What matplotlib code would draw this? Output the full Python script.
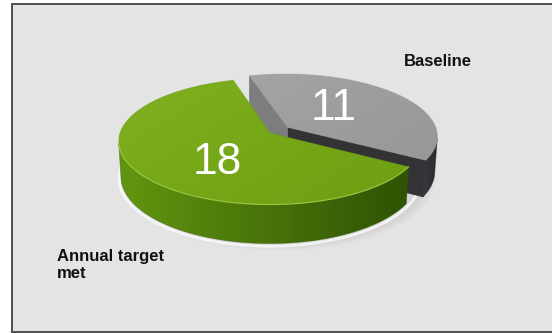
import numpy as np
import matplotlib
matplotlib.use('Agg')
import matplotlib.pyplot as plt
from matplotlib.patches import Polygon, Rectangle
from matplotlib.colors import LinearSegmentedColormap

# slices, laid out counter-clockwise from START
labels = ['Annual target\nmet', 'Baseline']
values = [18, 11]
explode = [0.0, 0.15]

# (angle in degrees, fraction of radius) for the value printed on each slice
value_pos = [(234, 0.56), (45, 0.47)]

START = 106.0          # degrees, where the first slice begins
ELEV = np.radians(24.4)
DIST = 6.8             # camera distance, in pie radii
THICK = 0.26           # disc thickness, in pie radii
SCALE = 150.0          # pixels per pie radius
CX, CY = 270.0, 133.0  # pixel position of the pie centre

styles = [
    dict(top=('#7eb01e', '#6e9e12'), top_dir=35,
         side=('#62960f', '#2f5204'), side_dir=0,
         cut='#4a7a0a', rim='#a6d24a'),
    dict(top=('#a4a4a4', '#979797'), top_dir=35,
         side=('#3a3a3e', '#2a2a2e'), side_dir=0,
         cut_start='#333336', cut_end='#7d7d7d', rim=None),
]

fig = plt.figure(figsize=(5.52, 3.33), dpi=100, facecolor='white')
ax = fig.add_axes([0, 0, 1, 1])


def project(x, y, z):
    c, s = np.cos(ELEV), np.sin(ELEV)
    depth = DIST + y * c - z * s
    sx = x * DIST / depth
    sy = (y * s + z * c) * DIST / depth
    return np.column_stack([CX + SCALE * sx, CY - SCALE * sy])


def shade(xy, c0, c1, angle_deg, zorder):
    poly = Polygon(xy, closed=True, facecolor='none', edgecolor='none')
    ax.add_patch(poly)
    x0, y0 = xy.min(0)
    x1, y1 = xy.max(0)
    gx, gy = np.meshgrid(np.linspace(0, 1, 96), np.linspace(0, 1, 96))
    a = np.radians(angle_deg)
    g = gx * np.cos(a) + gy * np.sin(a)
    g = (g - g.min()) / (g.max() - g.min())
    cmap = LinearSegmentedColormap.from_list('grad', [c0, c1])
    im = ax.imshow(g, cmap=cmap, extent=(x0, x1, y1, y0), origin='upper',
                   interpolation='bilinear', aspect='auto', zorder=zorder)
    im.set_clip_path(poly)
    # soft outline so the clipped edge is not jagged
    ax.add_patch(Polygon(xy, closed=True, facecolor='none',
                         edgecolor=c1, lw=0.5, alpha=0.5, zorder=zorder + 0.01))


def facing(n, p):
    cam = np.array([0.0, -DIST * np.cos(ELEV), DIST * np.sin(ELEV)])
    return np.dot(n, cam - p) > 0


# background panel
ax.add_patch(Rectangle((12, 4), 560, 327.5, facecolor='#e4e4e4',
                       edgecolor='#4d4d4d', lw=1.4, zorder=0))

# soft shadow under the disc
t_all = np.radians(np.linspace(0, 360, 300))
for k, a in zip([1.06, 1.04, 1.02], [0.05, 0.07, 0.09]):
    sh = project(0.05 + k * np.cos(t_all), -0.02 + k * np.sin(t_all),
                 np.full_like(t_all, -THICK))
    ax.add_patch(Polygon(sh, closed=True, facecolor='#9a9a9a', edgecolor='none',
                         alpha=a, zorder=1))
glow = project(1.01 * np.cos(t_all), 1.01 * np.sin(t_all) - 0.02,
               np.full_like(t_all, -THICK))
ax.add_patch(Polygon(glow, closed=True, facecolor='none', edgecolor='white',
                     lw=2.0, alpha=0.7, zorder=1.1))

total = float(sum(values))
spans = [v / total * 360.0 for v in values]
bounds = START + np.concatenate([[0], np.cumsum(spans)])

wedges = []
for i in range(len(values)):
    a0, a1 = bounds[i], bounds[i + 1]
    mid = np.radians((a0 + a1) / 2)
    off = explode[i] * np.array([np.cos(mid), np.sin(mid)])
    wedges.append((i, a0, a1, off))

# far slices first
wedges.sort(key=lambda w: -(w[3][1] + 0.5 * np.sin(np.radians((w[1] + w[2]) / 2))))

for order, (i, a0, a1, off) in enumerate(wedges):
    st = styles[i]
    ox, oy = off
    zb = 2 + order * 10
    t = np.radians(np.linspace(a0, a1, 300))
    rx, ry = ox + np.cos(t), oy + np.sin(t)

    # radial cut faces
    for ang, sign, key in [(a0, -1, 'cut_start'), (a1, 1, 'cut_end')]:
        r = np.radians(ang)
        n = np.array([-sign * np.sin(r), sign * np.cos(r), 0.0])
        p = np.array([ox + 0.5 * np.cos(r), oy + 0.5 * np.sin(r), -THICK / 2])
        if facing(n, p):
            ex, ey = ox + np.cos(r), oy + np.sin(r)
            face = project(np.array([ox, ex, ex, ox]), np.array([oy, ey, ey, oy]),
                           np.array([0, 0, -THICK, -THICK]))
            col = st.get(key, st.get('cut'))
            ax.add_patch(Polygon(face, closed=True, facecolor=col,
                                 edgecolor=col, lw=0.5, zorder=zb))

    # outer curved side, front-facing part only
    cam_y = -DIST * np.cos(ELEV)
    vis = (-ox * np.cos(t) - oy * np.sin(t) - 1 + np.sin(t) * cam_y) > 0
    if vis.sum() > 1:
        tv = t[vis]
        sx, sy = ox + np.cos(tv), oy + np.sin(tv)
        upper = project(sx, sy, np.zeros_like(tv))
        lower = project(sx, sy, np.full_like(tv, -THICK))
        side = np.vstack([upper, lower[::-1]])
        shade(side, st['side'][0], st['side'][1], st['side_dir'], zb + 1)
        if st['rim']:
            ax.plot(upper[:, 0], upper[:, 1], color=st['rim'], lw=0.9,
                    alpha=0.75, zorder=zb + 3)

    # top face
    top = project(np.r_[ox, rx], np.r_[oy, ry], np.zeros(len(rx) + 1))
    shade(top, st['top'][0], st['top'][1], st['top_dir'], zb + 2)

    # value on the slice
    ang, frac = value_pos[i]
    ra = np.radians(ang)
    lx, ly = project(np.array([ox + frac * np.cos(ra)]),
                     np.array([oy + frac * np.sin(ra)]), np.array([0.0]))[0]
    ax.text(lx, ly, f'{values[i]}', color='white', fontsize=32,
            family='Liberation Sans', ha='center', va='center', zorder=60)

# category labels
ax.text(57, 249, labels[0], fontsize=12, fontweight='bold', color='#111111',
        family='Liberation Sans', ha='left', va='top', linespacing=1.17,
        zorder=60)
ax.text(404, 61, labels[1], fontsize=12, fontweight='bold', color='#111111',
        family='Liberation Sans', ha='left', va='center', zorder=60)

ax.set_xlim(0, 552)
ax.set_ylim(333, 0)
ax.axis('off')

fig.savefig('out.png', dpi=100, facecolor='white')
